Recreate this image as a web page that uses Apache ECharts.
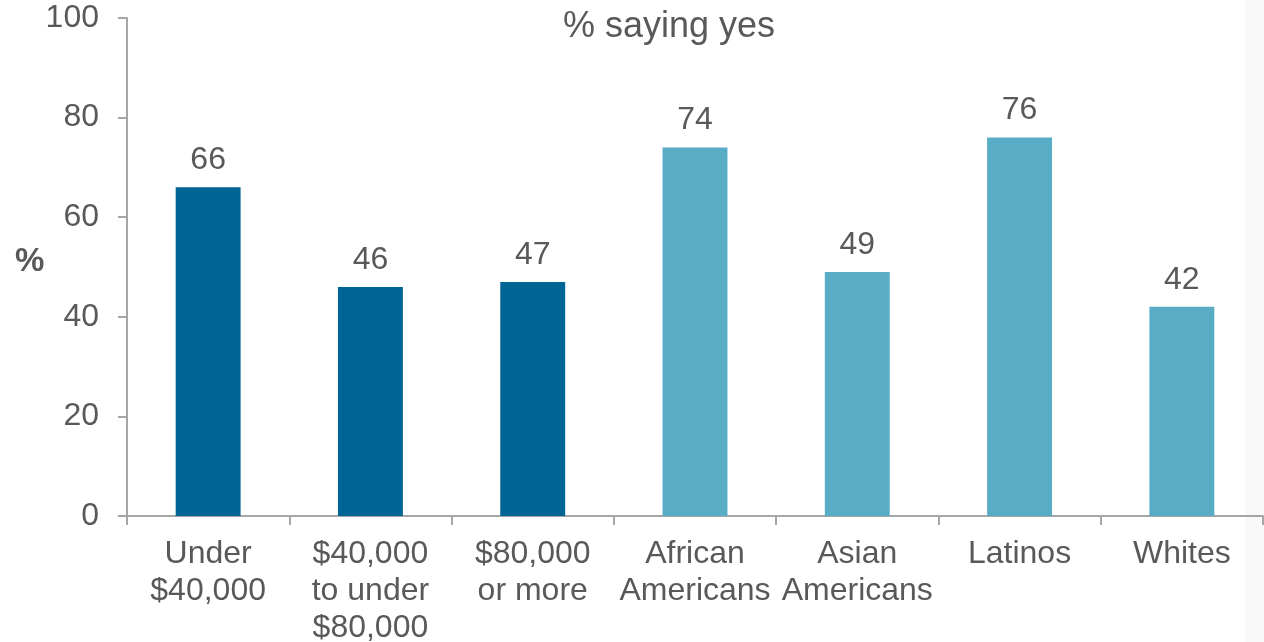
<!DOCTYPE html>
<html>
<head>
<meta charset="utf-8">
<script src="https://cdn.jsdelivr.net/npm/echarts@6/dist/echarts.min.js"></script>
<style>html,body{margin:0;padding:0;background:#fff}#c{width:1264px;height:642px}</style>
</head>
<body>
<div id="c"></div>
<script>
const categories = ["Under\n$40,000", "$40,000\nto under\n$80,000", "$80,000\nor more", "African\nAmericans", "Asian\nAmericans", "Latinos", "Whites"];
const values = [66, 46, 47, 74, 49, 76, 42];
const groups = ["income", "income", "income", "race", "race", "race", "race"];
const groupColors = { income: "#006595", race: "#58acc6" };
const yTicks = [0, 20, 40, 60, 80, 100];
const titleText = "% saying yes";
const yName = "%";

const chart = echarts.init(document.getElementById('c'));
const font = "'Liberation Sans', Arial, sans-serif";
const txt = "#595959";
const axisCol = "#a6a6a6";
chart.setOption({
  animation: false,
  title: { text: titleText, left: 664, textAlign: 'center', top: 4,
    textStyle: { fontFamily: font, fontSize: 36, fontWeight: 'normal', color: txt } },
  graphic: [
    { type: 'rect', shape: { x: 1245, y: 0, width: 19, height: 642 }, style: { fill: '#f9f9f9' }, z: -10 },
    { type: 'text', left: 15, top: 245, style: { text: yName, font: 'bold 33px ' + font, fill: txt } }
  ],
  grid: { left: 127, right: 1, top: 18, bottom: 126, containLabel: false, outerBoundsMode: 'none' },
  xAxis: {
    type: 'category', data: categories,
    axisLine: { lineStyle: { color: axisCol, width: 2 } },
    axisTick: { show: true, length: 9, lineStyle: { color: axisCol, width: 2 } },
    axisLabel: { interval: 0, fontFamily: font, fontSize: 32, color: txt, lineHeight: 37, margin: 20 }
  },
  yAxis: {
    type: 'value', min: 0, max: 100, interval: 20,
    axisLine: { show: true, lineStyle: { color: axisCol, width: 2 } },
    axisTick: { show: true, length: 9, inside: false, lineStyle: { color: axisCol, width: 2 } },
    splitLine: { show: false },
    axisLabel: { fontFamily: font, fontSize: 32, color: txt, margin: 28,
      formatter: v => yTicks.includes(v) ? String(v) : '' }
  },
  series: [{
    type: 'bar', barWidth: '40%',
    data: values.map((v, i) => ({ value: v, itemStyle: { color: groupColors[groups[i]] } })),
    label: { show: true, position: 'top', distance: 11, fontFamily: font, fontSize: 32, color: txt }
  }]
});
</script>
</body>
</html>
